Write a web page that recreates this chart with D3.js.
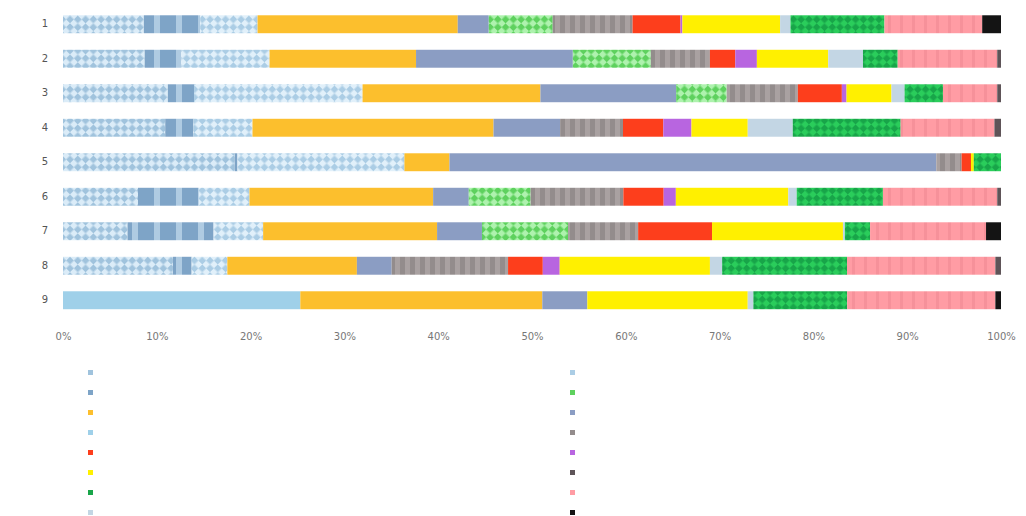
<!DOCTYPE html>
<html>
<head>
<meta charset="utf-8">
<script src="https://cdn.jsdelivr.net/npm/d3@7"></script>
<style>
  html, body { margin: 0; padding: 0; background: #ffffff; }
  svg { display: block; }
  .tick text { font-family: "DejaVu Sans", sans-serif; }
</style>
</head>
<body>
<svg id="chart" width="1026" height="516"></svg>
<script>
// Row labels
const categories = ["1", "2", "3", "4", "5", "6", "7", "8", "9"];

// Share of each component per row (percent)
const lightBlueHatch  = [8.6, 8.7, 11.2, 10.9, 18.3, 8.0, 6.9, 11.7, 0];
const steelStripe     = [6.0, 3.9, 2.8, 3.0, 0.3, 6.5, 9.2, 2.0, 0];
const paleBlueHatch   = [6.1, 9.4, 18.0, 6.3, 17.8, 5.4, 5.3, 3.8, 0];
const skyBlue         = [0, 0, 0, 0, 0, 0, 0, 0, 25.3];
const amber           = [21.3, 15.6, 19.0, 25.7, 4.8, 19.6, 18.6, 13.8, 25.8];
const slate           = [3.3, 16.7, 14.5, 7.1, 51.9, 3.8, 4.8, 3.7, 4.8];
const mintHatch       = [6.8, 8.3, 5.4, 0, 0, 6.6, 9.2, 0, 0];
const grayStripe      = [8.5, 6.3, 7.6, 6.7, 2.7, 9.9, 7.5, 12.4, 0];
const vermilion       = [5.1, 2.7, 4.7, 4.3, 1.0, 4.3, 7.9, 3.7, 0];
const violet          = [0.2, 2.3, 0.5, 3.0, 0, 1.3, 0, 1.8, 0];
const lemon           = [10.4, 7.6, 4.8, 6.0, 0.3, 12.0, 14.0, 16.0, 17.1];
const mist            = [1.1, 3.7, 1.4, 4.8, 0, 0.9, 0.2, 1.3, 0.6];
const greenHatch      = [10.0, 3.7, 4.1, 11.5, 2.9, 9.2, 2.7, 13.3, 10.0];
const rose            = [10.4, 10.6, 5.8, 10.0, 0, 12.2, 12.4, 15.8, 15.8];
const charcoal        = [0, 0.4, 0.4, 0.7, 0, 0.4, 0, 0.6, 0];
const ink             = [2.0, 0, 0, 0, 0, 0, 1.6, 0, 0.6];

// Stack order, left to right
const seriesKeys = ["lightBlueHatch", "steelStripe", "paleBlueHatch", "skyBlue", "amber", "slate",
  "mintHatch", "grayStripe", "vermilion", "violet", "lemon", "mist", "greenHatch", "rose", "charcoal", "ink"];
const seriesValues = {lightBlueHatch, steelStripe, paleBlueHatch, skyBlue, amber, slate,
  mintHatch, grayStripe, vermilion, violet, lemon, mist, greenHatch, rose, charcoal, ink};

// Legend layout: two columns
const legendColumns = [
  ["lightBlueHatch", "steelStripe", "amber", "skyBlue", "vermilion", "lemon", "greenHatch", "mist"],
  ["paleBlueHatch", "mintHatch", "slate", "grayStripe", "violet", "charcoal", "rose", "ink"]
];

const xTicks = [0, 0.1, 0.2, 0.3, 0.4, 0.5, 0.6, 0.7, 0.8, 0.9, 1.0];

// Fill styles: solid colour, or a pattern drawn over a base colour
const styles = {
  lightBlueHatch: {base: "#dbecf8", mark: "#a0c3dd", kind: "check", size: 11},
  steelStripe:    {base: "#7ea4c7", mark: "#afcbe2", kind: "stripe", size: 22, band: 6},
  paleBlueHatch:  {base: "#e1f0fa", mark: "#abcde5", kind: "check", size: 11},
  skyBlue:        {base: "#9fd0e9"},
  amber:          {base: "#fcbf2d"},
  slate:          {base: "#8b9dc3"},
  mintHatch:      {base: "#aef2ae", mark: "#5ed15e", kind: "check", size: 11},
  grayStripe:     {base: "#a9a1a1", mark: "#938c8c", kind: "stripe", size: 10, band: 5},
  vermilion:      {base: "#fd3e1c"},
  violet:         {base: "#b865e0"},
  lemon:          {base: "#fff000"},
  mist:           {base: "#c3d6e4"},
  greenHatch:     {base: "#2acd5b", mark: "#18a549", kind: "check", size: 11},
  rose:           {base: "#ff9ca4", mark: "#f6919a", kind: "stripe", size: 12, band: 3},
  charcoal:       {base: "#5e5458"},
  ink:            {base: "#141414"}
};

const legendColor = {
  lightBlueHatch: "#a0c3dd", steelStripe: "#7ea4c7", paleBlueHatch: "#abcde5", mintHatch: "#5ed15e",
  grayStripe: "#938c8c", greenHatch: "#18a549", rose: "#ff9ca4"
};

const table = categories.map((c, i) => {
  const row = {category: c};
  seriesKeys.forEach(k => { row[k] = seriesValues[k][i]; });
  return row;
});

const svg = d3.select("#chart");
const defs = svg.append("defs");

seriesKeys.forEach(k => {
  const s = styles[k];
  if (!s.kind) return;
  const n = s.size;
  const p = defs.append("pattern")
    .attr("id", "pat-" + k)
    .attr("patternUnits", "userSpaceOnUse")
    .attr("width", n).attr("height", n);
  p.append("rect").attr("width", n).attr("height", n).attr("fill", s.base);
  if (s.kind === "check") {
    p.attr("patternTransform", "rotate(45)");
    p.append("rect").attr("width", n / 2).attr("height", n / 2).attr("fill", s.mark);
    p.append("rect").attr("x", n / 2).attr("y", n / 2).attr("width", n / 2).attr("height", n / 2).attr("fill", s.mark);
  } else {
    p.append("rect").attr("width", s.band).attr("height", n).attr("fill", s.mark);
  }
});

const fillFor = k => styles[k].kind ? `url(#pat-${k})` : styles[k].base;

const x = d3.scaleLinear().domain([0, 1]).range([63, 1001]);
const y = d3.scaleBand().domain(categories).range([7, 317.5]).paddingInner(0.48).paddingOuter(0.24);

const stacked = d3.stack().keys(seriesKeys).offset(d3.stackOffsetExpand)(table);

svg.append("g")
  .selectAll("g")
  .data(stacked)
  .join("g")
    .attr("fill", d => fillFor(d.key))
  .selectAll("rect")
  .data(d => d)
  .join("rect")
    .attr("x", d => x(d[0]))
    .attr("y", d => y(d.data.category))
    .attr("width", d => Math.max(0, x(d[1]) - x(d[0])))
    .attr("height", y.bandwidth());

// Category labels
const yAxis = svg.append("g")
  .attr("transform", "translate(63,0)")
  .call(d3.axisLeft(y).tickSize(0).tickPadding(15));
yAxis.select(".domain").remove();
yAxis.selectAll("text").attr("font-size", 10).attr("fill", "#555");

// Percentage scale
const xAxis = svg.append("g")
  .attr("transform", "translate(0,325)")
  .call(d3.axisBottom(x).tickValues(xTicks).tickFormat(d3.format(".0%")).tickSize(0).tickPadding(8));
xAxis.select(".domain").remove();
xAxis.selectAll("text").attr("font-size", 10).attr("fill", "#777");

// Legend swatches
const legendX = [88, 570];
legendColumns.forEach((col, ci) => {
  svg.append("g")
    .selectAll("rect")
    .data(col)
    .join("rect")
      .attr("x", legendX[ci])
      .attr("y", (d, i) => 370 + i * 20)
      .attr("width", 5)
      .attr("height", 5)
      .attr("fill", d => legendColor[d] || styles[d].base);
});
</script>
</body>
</html>
